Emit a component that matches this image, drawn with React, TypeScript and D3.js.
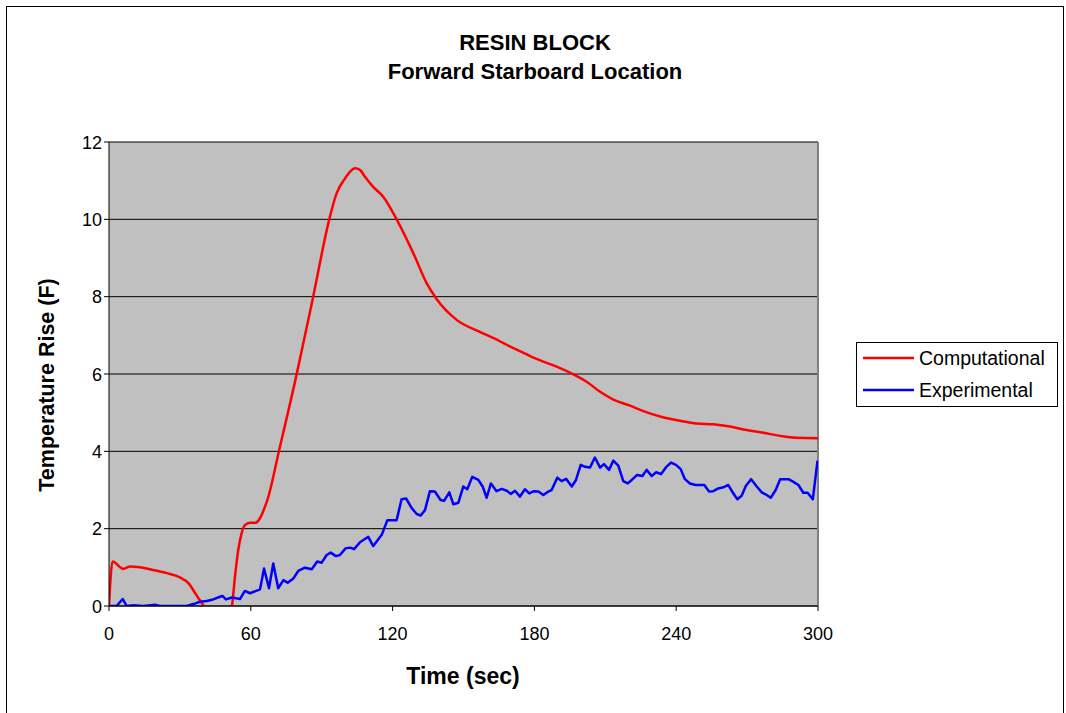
import React from "react";
import * as d3 from "d3";

const compTime = [0, 1.5, 6, 9, 13, 18.7, 24.4, 30, 33.6, 37, 40.6, 44, 48, 52, 53.3, 54.7, 56.1, 57.5, 59.7, 61.8, 63.9, 66, 67, 72, 79.4, 86.4, 93.2, 96.3, 99.9, 104.1, 106.2, 108.3, 111.8, 116.1, 121.7, 128.8, 134.4, 138.6, 147.1, 156.9, 165, 170, 175, 178, 183.8, 189.4, 196.5, 202.1, 207.8, 213.4, 220.5, 226.1, 233.2, 241.6, 248.7, 255.7, 262.8, 269.8, 276.9, 283.9, 291, 300];
const compTemp = [0, 1.15, 0.96, 1.02, 1.0, 0.93, 0.85, 0.74, 0.59, 0.28, -0.05, -0.4, -0.45, 0, 0.76, 1.45, 1.88, 2.09, 2.15, 2.15, 2.27, 2.57, 2.74, 4.03, 5.99, 8.0, 10.0, 10.67, 11.06, 11.32, 11.28, 11.1, 10.84, 10.58, 10.0, 9.12, 8.35, 7.94, 7.4, 7.09, 6.86, 6.7, 6.56, 6.47, 6.32, 6.19, 5.99, 5.8, 5.54, 5.34, 5.18, 5.04, 4.9, 4.79, 4.72, 4.7, 4.64, 4.55, 4.48, 4.4, 4.35, 4.34];

const expTime = [0, 3.2, 5.8, 7.5, 10.3, 14.5, 19.5, 21.6, 26, 30, 32.9, 35.7, 38.5, 41.3, 44.1, 47, 48, 49.5, 52, 55.4, 57.5, 59.7, 63.9, 65.6, 67.7, 69.5, 71.6, 73.8, 75.6, 78, 80.1, 82.9, 85.8, 88.1, 90, 92.1, 93.8, 96, 97.7, 100.1, 102, 103.7, 106.2, 109.7, 111.8, 115.4, 117.8, 121.7, 123.8, 125.7, 128.1, 130.2, 131.9, 133.7, 135.8, 137.9, 140.3, 141.8, 144, 145.7, 147.8, 149.9, 151.6, 153.7, 156.3, 158.1, 159.8, 161.6, 164, 166.2, 168.3, 170, 171.8, 173.9, 176, 177.8, 179.8, 181.7, 183.8, 185.9, 187.3, 189.7, 191.5, 193.4, 195.8, 197.6, 199.6, 201.4, 203.5, 205.6, 207.8, 209.4, 211.6, 213.4, 215.5, 217.6, 219.5, 221.2, 223.5, 225.7, 227.5, 229.6, 231.5, 233.6, 235.7, 237.8, 239.9, 241.9, 243.7, 245.8, 248.2, 251.9, 253.9, 255.7, 257.8, 260, 262, 264.2, 265.9, 267.7, 269.5, 271.7, 274.1, 276.2, 278.3, 280, 282.1, 284, 287.5, 289.6, 291.7, 293.8, 295.6, 297.8, 299.8];
const expTemp = [0, 0, 0.18, 0, 0.02, 0, 0.03, 0, 0, 0, 0, 0.05, 0.11, 0.13, 0.17, 0.24, 0.26, 0.17, 0.22, 0.18, 0.39, 0.33, 0.43, 0.97, 0.46, 1.1, 0.46, 0.67, 0.6, 0.71, 0.91, 0.99, 0.95, 1.15, 1.12, 1.32, 1.38, 1.29, 1.32, 1.49, 1.51, 1.47, 1.65, 1.79, 1.55, 1.84, 2.22, 2.22, 2.76, 2.78, 2.53, 2.38, 2.34, 2.48, 2.97, 2.96, 2.74, 2.72, 2.94, 2.63, 2.67, 3.09, 3.02, 3.34, 3.26, 3.09, 2.8, 3.17, 2.97, 3.03, 2.98, 2.9, 2.98, 2.83, 3.02, 2.91, 2.97, 2.96, 2.87, 2.96, 3.0, 3.32, 3.23, 3.29, 3.09, 3.26, 3.65, 3.6, 3.58, 3.84, 3.58, 3.67, 3.52, 3.76, 3.63, 3.23, 3.17, 3.26, 3.39, 3.36, 3.52, 3.36, 3.46, 3.41, 3.59, 3.71, 3.65, 3.54, 3.28, 3.17, 3.13, 3.13, 2.96, 2.97, 3.04, 3.07, 3.13, 2.91, 2.76, 2.85, 3.11, 3.28, 3.09, 2.94, 2.87, 2.8, 3.0, 3.28, 3.28, 3.21, 3.13, 2.93, 2.93, 2.76, 3.76];

const xTicks = [0, 60, 120, 180, 240, 300];
const yTicks = [0, 2, 4, 6, 8, 10, 12];
const seriesNames = ["Computational", "Experimental"];
const seriesColors = ["#FF0000", "#0000FF"];

const W = 1066;
const H = 713;
const plot = { left: 109, right: 818, top: 142, bottom: 606 };
const FONT = "'Liberation Sans', Arial, sans-serif";

export default function App() {
  const x = d3.scaleLinear().domain([0, 300]).range([plot.left, plot.right]);
  const y = d3.scaleLinear().domain([0, 12]).range([plot.bottom, plot.top]);

  const line = d3
    .line<[number, number]>()
    .x((d) => x(d[0]))
    .y((d) => y(d[1]))
    .curve(d3.curveMonotoneX);
  const lineLin = d3
    .line<[number, number]>()
    .x((d) => x(d[0]))
    .y((d) => y(d[1]));

  const comp = compTime.map((t, i) => [t, compTemp[i]] as [number, number]);
  const exp = expTime.map((t, i) => [t, expTemp[i]] as [number, number]);

  return (
    <svg
      width={W}
      height={H}
      style={{ position: "absolute", left: 0, top: 0, fontFamily: FONT }}
    >
      <rect x={0} y={0} width={W} height={H} fill="#fff" />
      <rect x={6.5} y={6.5} width={1057} height={730} fill="none" stroke="#000" strokeWidth={1} />

      <text x={535} y={50} textAnchor="middle" fontSize={22} fontWeight="bold">
        RESIN BLOCK
      </text>
      <text x={535} y={79} textAnchor="middle" fontSize={22} fontWeight="bold">
        Forward Starboard Location
      </text>

      <defs>
        <clipPath id="plotclip">
          <rect x={plot.left} y={plot.top - 2} width={plot.right - plot.left} height={plot.bottom - plot.top + 2} />
        </clipPath>
      </defs>

      <rect
        x={plot.left}
        y={plot.top}
        width={plot.right - plot.left}
        height={plot.bottom - plot.top}
        fill="#C0C0C0"
      />
      {yTicks.map((v) => (
        <line key={"g" + v} x1={plot.left} x2={plot.right} y1={y(v)} y2={y(v)} stroke="#000" strokeWidth={1} />
      ))}
      <line x1={plot.right} x2={plot.right} y1={plot.top} y2={plot.bottom} stroke="#808080" strokeWidth={2} />

      <g clipPath="url(#plotclip)">
        <path d={line(comp) || ""} fill="none" stroke={seriesColors[0]} strokeWidth={2.5} strokeLinejoin="round" />
        <path d={lineLin(exp) || ""} fill="none" stroke={seriesColors[1]} strokeWidth={2.5} strokeLinejoin="round" />
      </g>

      <line x1={plot.left} x2={plot.left} y1={plot.top} y2={plot.bottom} stroke="#000" strokeWidth={1} />
      <line x1={plot.left} x2={plot.right} y1={plot.bottom} y2={plot.bottom} stroke="#000" strokeWidth={1} />

      {yTicks.map((v) => (
        <g key={"yt" + v}>
          <line x1={plot.left - 5} x2={plot.left} y1={y(v)} y2={y(v)} stroke="#000" />
          <text x={plot.left - 7} y={y(v) + 6.5} textAnchor="end" fontSize={18}>
            {v}
          </text>
        </g>
      ))}
      {xTicks.map((v) => (
        <g key={"xt" + v}>
          <line x1={x(v)} x2={x(v)} y1={plot.bottom} y2={plot.bottom + 5} stroke="#000" />
          <text x={x(v)} y={plot.bottom + 34} textAnchor="middle" fontSize={18}>
            {v}
          </text>
        </g>
      ))}

      <text x={463} y={684} textAnchor="middle" fontSize={23} fontWeight="bold">
        Time (sec)
      </text>
      <text
        transform={`translate(54, ${(plot.top + plot.bottom) / 2 + 11}) rotate(-90)`}
        textAnchor="middle"
        fontSize={21.5}
        fontWeight="bold"
      >
        Temperature Rise (F)
      </text>

      <rect x={856.5} y={342.5} width={201} height={64} fill="#fff" stroke="#000" strokeWidth={1} />
      {seriesNames.map((n, i) => (
        <g key={n}>
          <line x1={863} x2={914} y1={358 + i * 32} y2={358 + i * 32} stroke={seriesColors[i]} strokeWidth={2.5} />
          <text x={919} y={365 + i * 32} fontSize={19.5}>
            {n}
          </text>
        </g>
      ))}
    </svg>
  );
}
